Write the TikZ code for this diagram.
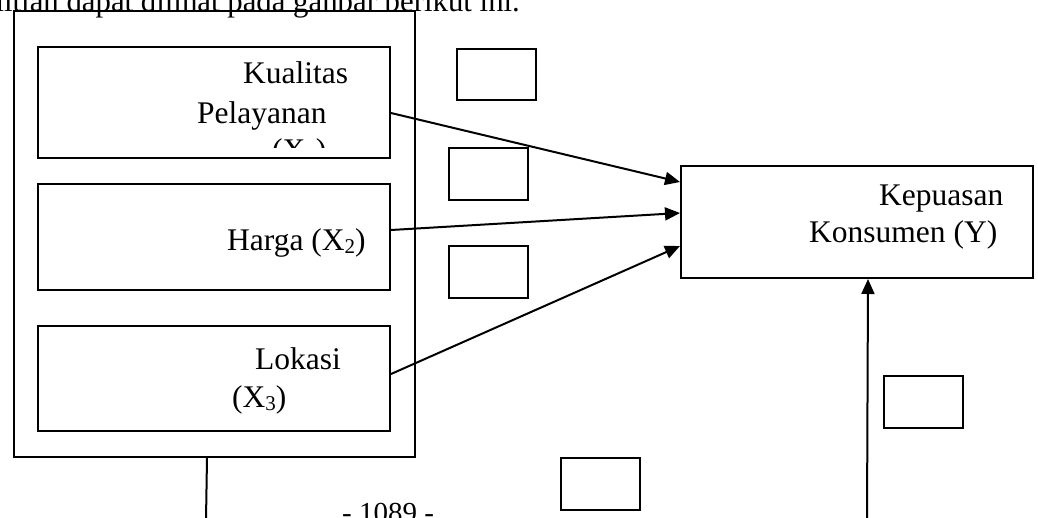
\documentclass[tikz,border=0pt]{standalone}
\usepackage{fontspec}
\setmainfont{Liberation Serif}
\usetikzlibrary{arrows.meta,calc}
\newcommand{\sbx}[1]{\raisebox{-0.12em}{\fontsize{21}{21}\selectfont #1}}
\begin{document}
\begin{tikzpicture}[x=1pt,y=-1pt,
  bx/.style={draw,line width=2pt,inner sep=0pt,anchor=north west},
  lbl/.style={anchor=base west,inner sep=0pt,font=\fontsize{31.5}{37}\selectfont},
  arr/.style={line width=2pt,-{Triangle[length=15pt,width=13pt]}},
  ln/.style={line width=2pt}]
\useasboundingbox (0,0) rectangle (1038,517);
\clip (0,0) rectangle (1038,517);
% top running text
\node[anchor=base east,inner sep=0pt,font=\fontsize{30.8}{36}\selectfont] (top) at (520,11) {penelitian dapat dilihat pada ganbar berikut ini.};
% outer group box
\node[bx,minimum width=401pt,minimum height=446pt] (g) at (13,10) {};
% inner boxes
\node[bx,minimum width=352pt,minimum height=111pt] (k) at (37,46) {};
\node[bx,minimum width=352pt,minimum height=106pt] (h) at (37,183) {};
\node[bx,minimum width=352pt,minimum height=105pt] (l) at (37,325) {};
\node[bx,minimum width=352pt,minimum height=112pt] (y) at (680,165) {};
% empty boxes
\node[bx,minimum width=79pt,minimum height=51pt] (e1) at (456,48) {};
\node[bx,minimum width=79pt,minimum height=52pt] (e2) at (448,147) {};
\node[bx,minimum width=79pt,minimum height=52pt] (e3) at (448,245) {};
\node[bx,minimum width=79pt,minimum height=52pt] (e4) at (883,375) {};
\node[bx,minimum width=79pt,minimum height=52pt] (e5) at (560,457) {};
% texts
\node[lbl] (t1) at (243,83) {Kualitas};
\node[lbl] (t2) at (197,123) {Pelayanan};
\begin{scope}
\clip (37,46) rectangle (389,147);
\node[lbl] (t3) at (272,160) {(X\sbx{1})};
\end{scope}
\node[lbl] (t4) at (227,250) {Harga (X\sbx{2})};
\node[lbl] (t5) at (255,369) {Lokasi};
\node[lbl] (t6) at (232,407) {(X\sbx{3})};
\node[lbl] (t7) at (879,205) {Kepuasan};
\node[lbl] (t8) at (809,242) {Konsumen (Y)};
\node[anchor=base west,inner sep=0pt,font=\fontsize{29}{34}\selectfont] (pg) at (342,522) {- 1089 -};
% connectors
\draw[arr] ([yshift=-10.5pt]k.east) -- ([yshift=40pt]y.west);
\draw[arr] ([yshift=7pt]h.east) -- ([yshift=9pt]y.west);
\draw[arr] ([yshift=4.5pt]l.east) -- ([yshift=-24pt]y.west);
\coordinate (yb) at (867,520);
\draw[arr] (yb) -- ([xshift=11pt]y.south);
\coordinate (gb) at (206,520);
\draw[ln] ([xshift=-7.5pt]g.south) -- (gb);
\end{tikzpicture}
\end{document}
